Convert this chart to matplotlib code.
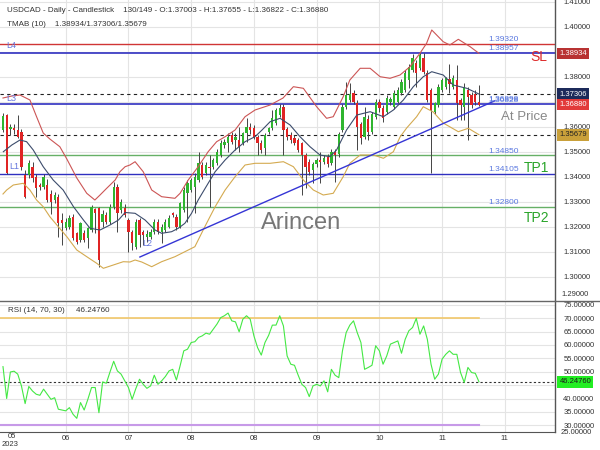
import matplotlib
matplotlib.use('Agg')
import matplotlib.pyplot as plt
import numpy as np
from matplotlib.lines import Line2D
from matplotlib.transforms import blended_transform_factory

plt.rcParams['font.family'] = ['Liberation Sans', 'DejaVu Sans']

# ---------------- data ----------------
opens = [1.3588, 1.3645, 1.3590, 1.3595, 1.3587, 1.3580, 1.3407, 1.3407, 1.3440, 1.3400,
         1.3367, 1.3360, 1.3367, 1.3330, 1.3307, 1.3320, 1.3225, 1.3193, 1.3200, 1.3240,
         1.3173, 1.3147, 1.3173, 1.3153, 1.3187, 1.3270, 1.3273, 1.3220, 1.3247, 1.3220,
         1.3280, 1.3360, 1.3267, 1.3273, 1.3227, 1.3180, 1.3120, 1.3225, 1.3180, 1.3160,
         1.3160, 1.3180, 1.3220, 1.3180, 1.3187, 1.3200, 1.3255, 1.3240, 1.3200, 1.3267,
         1.3333, 1.3347, 1.3360, 1.3387, 1.3447, 1.3413, 1.3440, 1.3440, 1.3453, 1.3487,
         1.3527, 1.3533, 1.3567, 1.3547, 1.3547, 1.3533, 1.3573, 1.3600, 1.3593, 1.3560,
         1.3533, 1.3513, 1.3580, 1.3593, 1.3613, 1.3647, 1.3680, 1.3590, 1.3567, 1.3553,
         1.3547, 1.3533, 1.3487, 1.3460, 1.3425, 1.3450, 1.3465, 1.3460, 1.3478, 1.3453,
         1.3500, 1.3490, 1.3587, 1.3680, 1.3707, 1.3733, 1.3695, 1.3610, 1.3560, 1.3630,
         1.3580, 1.3640, 1.3700, 1.3675, 1.3660, 1.3700, 1.3680, 1.3700, 1.3735, 1.3747,
         1.3787, 1.3827, 1.3853, 1.3833, 1.3873, 1.3813, 1.3747, 1.3660, 1.3687, 1.3747,
         1.3760, 1.3790, 1.3760, 1.3787, 1.3707, 1.3680, 1.3747, 1.3727, 1.3730, 1.37003]
highs = [1.3655, 1.3650, 1.3610, 1.3610, 1.3647, 1.3590, 1.3427, 1.3465, 1.3460, 1.3410,
         1.3375, 1.3410, 1.3390, 1.3345, 1.3340, 1.3330, 1.3255, 1.3235, 1.3245, 1.3250,
         1.3180, 1.3220, 1.3185, 1.3200, 1.3285, 1.3275, 1.3280, 1.3265, 1.3260, 1.3290,
         1.3380, 1.3370, 1.3310, 1.3290, 1.3235, 1.3187, 1.3230, 1.3235, 1.3187, 1.3185,
         1.3190, 1.3230, 1.3230, 1.3210, 1.3230, 1.3245, 1.3260, 1.3250, 1.3300, 1.3360,
         1.3385, 1.3395, 1.3413, 1.3500, 1.3460, 1.3460, 1.3487, 1.3475, 1.3510, 1.3545,
         1.3550, 1.3573, 1.3580, 1.3575, 1.3600, 1.3580, 1.3633, 1.3615, 1.3605, 1.3565,
         1.3545, 1.3575, 1.3600, 1.3667, 1.3675, 1.3690, 1.3690, 1.3600, 1.3580, 1.3565,
         1.3555, 1.3540, 1.3495, 1.3470, 1.3460, 1.3475, 1.3500, 1.3485, 1.3490, 1.3510,
         1.3510, 1.3580, 1.3690, 1.3780, 1.3775, 1.3745, 1.3705, 1.3620, 1.3680, 1.3645,
         1.3660, 1.3710, 1.3710, 1.3685, 1.3725, 1.3720, 1.3745, 1.3760, 1.3790, 1.3825,
         1.3850, 1.3890, 1.3865, 1.3894, 1.3894, 1.3825, 1.3755, 1.3700, 1.3770, 1.3795,
         1.3800, 1.3850, 1.3805, 1.3847, 1.3715, 1.3773, 1.3760, 1.3740, 1.3745, 1.37655]
lows = [1.3580, 1.3410, 1.3565, 1.3570, 1.3555, 1.3427, 1.3315, 1.3395, 1.3380, 1.3320,
        1.3345, 1.3350, 1.3300, 1.3250, 1.3295, 1.3160, 1.3127, 1.3185, 1.3190, 1.3145,
        1.3130, 1.3140, 1.3140, 1.3113, 1.3180, 1.3175, 1.3040, 1.3200, 1.3210, 1.3210,
        1.3270, 1.3180, 1.3255, 1.3240, 1.3100, 1.3107, 1.3110, 1.3120, 1.3127, 1.3140,
        1.3150, 1.3170, 1.3170, 1.3135, 1.3180, 1.3195, 1.3240, 1.3187, 1.3195, 1.3260,
        1.3220, 1.3340, 1.3253, 1.3380, 1.3390, 1.3405, 1.3280, 1.3430, 1.3445, 1.3480,
        1.3515, 1.3500, 1.3530, 1.3507, 1.3500, 1.3525, 1.3540, 1.3570, 1.3550, 1.3487,
        1.3495, 1.3487, 1.3570, 1.3585, 1.3605, 1.3640, 1.3487, 1.3545, 1.3535, 1.3525,
        1.3500, 1.3327, 1.3355, 1.3405, 1.3375, 1.3440, 1.3375, 1.3450, 1.3440, 1.3445,
        1.3380, 1.3480, 1.3580, 1.3670, 1.3700, 1.3690, 1.3507, 1.3530, 1.3550, 1.3545,
        1.3570, 1.3630, 1.3660, 1.3620, 1.3650, 1.3685, 1.3670, 1.3695, 1.3725, 1.3740,
        1.3753, 1.3820, 1.3760, 1.3825, 1.3810, 1.3700, 1.3414, 1.3650, 1.3680, 1.3740,
        1.3750, 1.3733, 1.3750, 1.3627, 1.3627, 1.3627, 1.3547, 1.3675, 1.3685, 1.36822]
closes = [1.3641, 1.3415, 1.3600, 1.3585, 1.3560, 1.3440, 1.3320, 1.3453, 1.3393, 1.3353,
          1.3358, 1.3400, 1.3307, 1.3300, 1.3327, 1.3213, 1.3215, 1.3220, 1.3233, 1.3153,
          1.3140, 1.3213, 1.3147, 1.3193, 1.3280, 1.3255, 1.3067, 1.3250, 1.3220, 1.3280,
          1.3360, 1.3253, 1.3300, 1.3247, 1.3180, 1.3133, 1.3220, 1.3165, 1.3165, 1.3170,
          1.3180, 1.3220, 1.3180, 1.3200, 1.3220, 1.3233, 1.3248, 1.3200, 1.3293, 1.3347,
          1.3373, 1.3387, 1.3400, 1.3453, 1.3400, 1.3447, 1.3435, 1.3467, 1.3500, 1.3533,
          1.3540, 1.3560, 1.3540, 1.3560, 1.3520, 1.3573, 1.3600, 1.3585, 1.3560, 1.3533,
          1.3507, 1.3567, 1.3593, 1.3633, 1.3667, 1.3673, 1.3587, 1.3560, 1.3547, 1.3535,
          1.3507, 1.3487, 1.3440, 1.3420, 1.3450, 1.3465, 1.3460, 1.3475, 1.3450, 1.3500,
          1.3485, 1.3570, 1.3680, 1.3727, 1.3730, 1.3700, 1.3600, 1.3555, 1.3640, 1.3580,
          1.3650, 1.3700, 1.3675, 1.3635, 1.3715, 1.3710, 1.3735, 1.3747, 1.3780, 1.3813,
          1.3840, 1.3873, 1.3813, 1.3887, 1.3820, 1.3707, 1.3667, 1.3693, 1.3760, 1.3787,
          1.3793, 1.3770, 1.3795, 1.3693, 1.3687, 1.3760, 1.3720, 1.3687, 1.3700, 1.36880]

upper_bars = [0, 2.4, 4.6, 7.3, 9.1, 10.9, 12.7, 15.4, 17.3, 20.0, 22.7, 24.9, 26.3, 28.1,
              30.4, 31.7, 33.1, 34.4, 35.8, 38.0, 40.3, 43.0, 46.6, 48.0, 50.2, 52.9, 55.6,
              57.9, 60.2, 62.9, 65.6, 68.3, 72.4, 75.9, 78.7, 81.4, 85.0, 87.7, 89.5, 92.2,
              94.0, 96.8, 99.5, 102.2, 104.9, 107.6, 110.3, 113.0, 114.8, 116.2, 119.3,
              121.1, 123.4, 126.6, 129]
band_upper = [1.37148, 1.37228, 1.37268, 1.37068, 1.36400, 1.35748, 1.35508, 1.35200,
              1.34708, 1.33948, 1.33336, 1.33068, 1.33268, 1.33536, 1.33868, 1.34200,
              1.34400, 1.34468, 1.34600, 1.34200, 1.33468, 1.33200, 1.33136, 1.33336,
              1.33868, 1.34400, 1.35000, 1.35400, 1.35600, 1.35868, 1.36400, 1.36668,
              1.36868, 1.37148, 1.37600, 1.37536, 1.36800, 1.36336, 1.36400, 1.37200,
              1.37868, 1.38336, 1.38336, 1.38000, 1.37936, 1.38068, 1.38400, 1.38936,
              1.39336, 1.39868, 1.39400, 1.39268, 1.39496, 1.39200, 1.38934]

middle_bars = [0.1, 2.4, 4.6, 6.4, 8.2, 10.9, 13.6, 16.3, 19.1, 21.8, 23.6, 26.3, 29.0,
               31.3, 33.1, 35.8, 38.5, 41.2, 43.0, 45.7, 47.5, 49.3, 51.1, 52.9, 55.6,
               57.5, 60.2, 62.9, 65.6, 68.3, 70.2, 72.4, 75.1, 77.8, 80.5, 83.2, 85.9,
               88.6, 90.4, 93.1, 95.9, 99.5, 103.1, 105.8, 108.5, 111.2, 113.9, 116.2,
               119.3, 122.0, 125.7, 129]
band_middle = [1.35000, 1.35268, 1.35468, 1.35400, 1.35068, 1.34400, 1.33868, 1.33468,
               1.32800, 1.32268, 1.31936, 1.31868, 1.32068, 1.32268, 1.32568, 1.32536,
               1.32268, 1.31868, 1.31736, 1.31800, 1.31936, 1.32136, 1.32536, 1.33068,
               1.33736, 1.34200, 1.34668, 1.35068, 1.35400, 1.35600, 1.35868, 1.36200,
               1.36336, 1.36068, 1.35600, 1.35200, 1.34868, 1.34800, 1.35068, 1.35868,
               1.36468, 1.36600, 1.36400, 1.36668, 1.37068, 1.37600, 1.38000, 1.38200,
               1.38068, 1.37668, 1.37536, 1.37306]

lower_bars = [0, 1.0, 2.8, 5.5, 7.3, 9.1, 10.9, 12.7, 14.6, 17.3, 20.0, 22.7, 25.4, 27.2,
              29.9, 32.6, 34.4, 35.8, 37.6, 40.3, 43.0, 46.6, 49.3, 52.0, 54.7, 57.5, 60.2,
              62.9, 65.6, 68.3, 72.4, 76.0, 78.7, 81.4, 84.1, 86.8, 89.5, 92.2, 94.0, 96.8,
              100.4, 103.1, 105.8, 107.6, 109.4, 112.1, 113.9, 116.6, 119.3, 123.4, 126.1, 129]
band_lower = [1.33308, 1.33468, 1.33668, 1.33736, 1.33468, 1.33068, 1.32800, 1.32400,
              1.32068, 1.31600, 1.31068, 1.30800, 1.30536, 1.30336, 1.30468, 1.30600,
              1.30588, 1.30668, 1.30588, 1.30400, 1.30600, 1.30800, 1.31000, 1.31200,
              1.32000, 1.32800, 1.33468, 1.34000, 1.34468, 1.34536, 1.34536, 1.34600,
              1.34400, 1.33868, 1.33468, 1.33268, 1.33336, 1.34000, 1.34536, 1.34868,
              1.34868, 1.34736, 1.35000, 1.35588, 1.35948, 1.36400, 1.36800, 1.36588,
              1.36148, 1.35800, 1.35936, 1.35679]

rsi_values = [51.9, 40.0, 49.9, 50.2, 49.1, 44.7, 38.1, 44.5, 42.8, 41.6,
              41.2, 43.5, 41.6, 39.7, 40.3, 36.0, 35.7, 35.4, 36.6, 34.1,
              32.6, 38.5, 35.7, 39.7, 44.1, 44.1, 34.7, 46.2, 45.7, 49.9,
              53.9, 50.3, 49.1, 46.6, 44.1, 39.7, 43.7, 47.2, 45.3, 43.8,
              44.7, 48.7, 45.3, 46.6, 48.2, 50.3, 50.9, 46.9, 52.2, 57.8,
              58.4, 60.9, 61.2, 62.8, 63.4, 64.4, 64.0, 65.9, 67.8, 70.2,
              70.9, 71.9, 69.0, 68.6, 64.9, 69.6, 70.9, 69.6, 63.4, 59.0,
              56.2, 60.9, 63.6, 67.4, 67.4, 70.9, 67.1, 55.9, 52.8, 52.4,
              48.7, 45.3, 44.1, 40.7, 44.7, 45.3, 44.7, 46.6, 42.5, 50.9,
              48.7, 47.8, 57.8, 64.6, 67.4, 69.0, 64.6, 60.9, 50.9, 51.6,
              52.4, 59.7, 57.8, 52.8, 55.9, 60.3, 60.9, 61.5, 56.9, 62.1,
              65.3, 66.5, 69.9, 64.0, 67.1, 62.1, 52.8, 47.2, 49.1, 54.7,
              56.5, 57.8, 56.5, 56.5, 49.7, 46.0, 51.6, 49.7, 49.4, 46.2476]

trend_bars = [37.1, 133.3]
trend_prices = [1.30788, 1.37036]

price_ticks = [1.30, 1.31, 1.32, 1.33, 1.34, 1.35, 1.36, 1.37, 1.38, 1.39, 1.40, 1.41]
hidden_price_ticks = [1.37, 1.39]
rsi_ticks = [30, 35, 40, 45, 50, 55, 60, 65, 70, 75]
hidden_rsi_ticks = [45]
month_tick_bars = [17, 34, 51, 68, 85, 102, 119, 136]
month_tick_labels = ['06', '07', '08', '08', '09', '10', '11', '11']

sl_level = 1.39320
l4_level = 1.38957
tmab_mid_last = 1.37306
l3_level = 1.36898
tmab_low_last = 1.35679
tp1_green = 1.34850
l1_level = 1.34105
tp2_level = 1.32800
last_close = 1.36880
tmab_up_last = 1.38934
rsi_last = 46.24760

# ---------------- figure ----------------
fig = plt.figure(figsize=(6, 4.5), dpi=100)
W, H = 600.0, 450.0
ax = fig.add_axes([0, 1 - 300 / H, 555 / W, 300 / H])
ax2 = fig.add_axes([0, 1 - 432 / H, 555 / W, 131 / H])

XMIN, XMAX = -0.81, 149.6
ax.set_xlim(XMIN, XMAX)
ax.set_ylim(1.29068, 1.41068)
ax2.set_xlim(XMIN, XMAX)
ax2.set_ylim(27.5, 76.4)

grid_c = '#e4e4e4'
TICK_FS = 5.5
for a in (ax, ax2):
    a.set_facecolor('white')
    a.spines['left'].set_visible(False)
    a.spines['top'].set_visible(False)
    a.spines['right'].set_color('#555555')
    a.spines['right'].set_linewidth(1.0)
    a.yaxis.tick_right()
    a.set_xticks(month_tick_bars)
    a.grid(True, color=grid_c, linewidth=0.8, zorder=0)
    a.set_axisbelow(True)
    a.tick_params(axis='both', length=0, labelsize=TICK_FS, colors='#333333')
ax.spines['bottom'].set_visible(False)
ax.tick_params(axis='x', labelbottom=False)
ax2.spines['bottom'].set_color('#555555')
ax2.set_xticklabels(month_tick_labels)
ax2.tick_params(axis='x', pad=2)
ax.tick_params(axis='y', pad=6)
ax2.tick_params(axis='y', pad=6)

ax.set_yticks(price_ticks)
ax.set_yticklabels(['' if v in hidden_price_ticks else '%.5f' % v for v in price_ticks])
ax2.set_yticks(rsi_ticks)
ax2.set_yticklabels(['' if v in hidden_rsi_ticks else '%.5f' % v for v in rsi_ticks])

# separator line between panels (full figure width)
fig.add_artist(Line2D([0, 1], [1 - 300.5 / H] * 2, color='#666666', linewidth=1.0))

# ---------------- candles ----------------
x = np.arange(len(closes))
o = np.array(opens); h = np.array(highs); l = np.array(lows); c = np.array(closes)
up = c >= o
ax.vlines(x, l, h, color='#444444', linewidth=0.7, zorder=3)
body_bottom = np.minimum(o, c)
body_h = np.maximum(np.abs(c - o), 0.00012)
ax.bar(x[up], body_h[up], bottom=body_bottom[up], width=0.62, color='#2fb52f', zorder=4)
ax.bar(x[~up], body_h[~up], bottom=body_bottom[~up], width=0.62, color='#e02424', zorder=4)

# ---------------- bands ----------------
ax.plot(upper_bars, band_upper, color='#cc5555', linewidth=0.8, zorder=5)
ax.plot(middle_bars, band_middle, color='#3c4c6c', linewidth=0.8, zorder=5)
ax.plot(lower_bars, band_lower, color='#d4aa50', linewidth=0.8, zorder=5)

# ---------------- levels ----------------
ax.axhline(sl_level, color='#d03535', linewidth=1.0, zorder=2)
ax.axhline(l4_level, color='#3030c0', linewidth=1.2, zorder=2)
ax.axhline(tmab_mid_last, color='#222222', linewidth=0.8, linestyle=(0, (3, 3)), zorder=2)
ax.axhline(l3_level, color='#3030c0', linewidth=1.2, zorder=2)
ax.axhline(tmab_low_last, color='#222222', linewidth=0.8, linestyle=(0, (3, 3)), zorder=2)
ax.axhline(tp1_green, color='#66b066', linewidth=1.0, zorder=2)
ax.axhline(l1_level, color='#3030c0', linewidth=1.0, zorder=2)
ax.axhline(tp2_level, color='#66b066', linewidth=1.0, zorder=2)

ax.plot(trend_bars, trend_prices, color='#3535d5', linewidth=1.0, zorder=6)

lab_c = '#5a78e0'
lab_x = 139.8
for v, s in [(sl_level, '1.39320'), (l4_level, '1.38957'), (tp1_green, '1.34850'),
             (l1_level, '1.34105'), (tp2_level, '1.32800')]:
    ax.text(lab_x, v + 0.0003, s, ha='right', va='bottom', fontsize=6, color=lab_c, zorder=7)
ax.text(lab_x, l3_level + 0.0003, '1.36898', ha='right', va='bottom', fontsize=6, color=lab_c, zorder=7)
ax.text(lab_x, l3_level + 0.0001, '1.36828', ha='right', va='bottom', fontsize=6, color=lab_c, zorder=7)

ax.text(1.0, 1.3923, 'L4', fontsize=6.5, color='#6677dd', va='center', zorder=7)
ax.text(1.0, 1.3713, 'L3', fontsize=6.5, color='#6677dd', va='center', zorder=7)
ax.text(1.6, 1.3440, 'L1', fontsize=6.5, color='#6677dd', va='center', zorder=7)
ax.text(37.8, 1.3134, 'L2', fontsize=6.5, color='#6677dd', va='center', zorder=7)

ax.text(80.8, 1.3213, 'Arincen', fontsize=17, color='#777777', ha='center', va='center', zorder=1)
ax.text(141.2, 1.3639, 'At Price', fontsize=9.5, color='#888888', ha='center', va='center', zorder=7)
ax.text(145.2, 1.3877, 'SL', fontsize=10, color='#dd2a2a', ha='center', va='center', zorder=7)
ax.text(144.5, 1.3433, 'TP1', fontsize=10, color='#2aa52a', ha='center', va='center', zorder=7)
ax.text(144.5, 1.3233, 'TP2', fontsize=10, color='#2aa52a', ha='center', va='center', zorder=7)

# price boxes on right axis
tr = blended_transform_factory(ax.transAxes, ax.transData)
for v, txt, bg, fg in [(tmab_up_last, '1.38934', '#b83232', 'white'),
                       (tmab_mid_last, '1.37306', '#1c2a5a', 'white'),
                       (last_close, '1.36880', '#e23a3a', 'white'),
                       (tmab_low_last, '1.35679', '#c9a03a', '#222222')]:
    ax.text(1.008, v, txt, transform=tr, fontsize=TICK_FS, color=fg, ha='left', va='center',
            bbox=dict(boxstyle='square,pad=0.3', facecolor=bg, edgecolor='none'),
            clip_on=False, zorder=10)
fig.text(561 / W, 1 - 295 / H, '1.29000', fontsize=TICK_FS, color='#333333', va='center')

# ---------------- RSI ----------------
ax2.plot(np.arange(len(rsi_values)), rsi_values, color='#44e844', linewidth=0.8, zorder=4)
ax2.plot([XMIN, len(rsi_values) - 1], [70, 70], color='#f2c86a', linewidth=1.2, zorder=3)
ax2.plot([XMIN, len(rsi_values) - 1], [30, 30], color='#c79ae8', linewidth=1.5, zorder=3)
ax2.axhline(rsi_last, color='#333333', linewidth=0.8, linestyle=(0, (2, 2)), zorder=3)
tr2 = blended_transform_factory(ax2.transAxes, ax2.transData)
ax2.text(1.008, rsi_last, '46.24760', transform=tr2, fontsize=TICK_FS, color='#1a1a1a', ha='left',
         va='center', bbox=dict(boxstyle='square,pad=0.3', facecolor='#22ee22', edgecolor='none'),
         clip_on=False, zorder=10)
fig.text(561 / W, 1 - 433 / H, '25.00000', fontsize=TICK_FS, color='#333333', va='center', zorder=0)

# ---------------- header texts ----------------
HDR_FS = 5.8
fig.text(7 / W, 1 - 10 / H,
         'USDCAD - Daily - Candlestick    130/149 - O:1.37003 - H:1.37655 - L:1.36822 - C:1.36880',
         fontsize=HDR_FS, color='#333333', va='center')
fig.text(7 / W, 1 - 25 / H, 'TMAB (10)    1.38934/1.37306/1.35679',
         fontsize=HDR_FS, color='#333333', va='center')
fig.text(8 / W, 1 - 311 / H, 'RSI (14, 70, 30)     46.24760',
         fontsize=HDR_FS, color='#333333', va='center')
fig.text(11.7 / W, 1 - 436 / H, '05', fontsize=TICK_FS, color='#333333', ha='center', va='center')
fig.text(2 / W, 1 - 445 / H, '2023', fontsize=TICK_FS, color='#333333', ha='left', va='center')

fig.savefig('out.png', dpi=100)
